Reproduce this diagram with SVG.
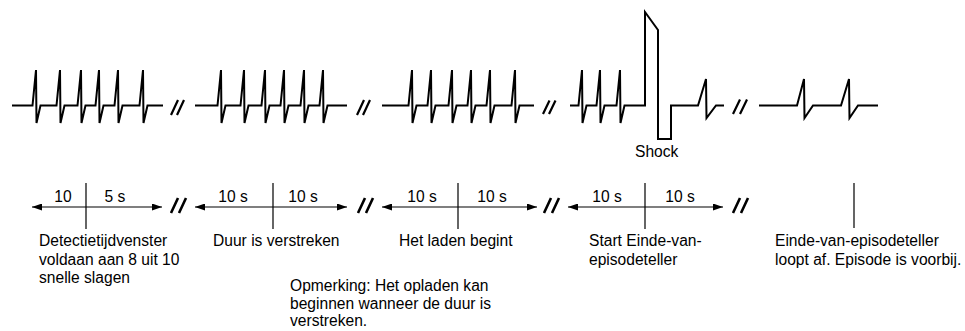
<svg xmlns="http://www.w3.org/2000/svg" width="965" height="331" viewBox="0 0 965 331">
<style>
.ecg{fill:none;stroke:#000;stroke-width:2;stroke-linejoin:miter;stroke-linecap:butt}
.brk{fill:none;stroke:#000;stroke-width:2.2}
.brk2{fill:none;stroke:#000;stroke-width:2.6}
.ax{fill:none;stroke:#000;stroke-width:1.2}
.tk{fill:none;stroke:#000;stroke-width:1.2}
text{font-family:"Liberation Sans",Arial,Helvetica,sans-serif;font-size:15.6px;fill:#000}
.c{text-anchor:middle}
</style>
<defs>
<marker id="ah" viewBox="0 0 10 7" refX="10" refY="3.5" markerUnits="userSpaceOnUse" markerWidth="10" markerHeight="7" orient="auto-start-reverse">
<path d="M0,0 L10,3.5 L0,7 z" fill="#000"/>
</marker>
</defs>
<rect width="965" height="331" fill="#fff"/>
<g id="ecg-strip">
<path class="ecg" d="M12,105.5 L32.5,105.5 L36,70 L36.5,123 L40.5,105.5 L56.5,105.5 L60,70 L60.5,123 L64.5,105.5 L77.5,105.5 L81,70 L81.5,123 L85.5,105.5 L95.5,105.5 L99,70 L99.5,123 L103.5,105.5 L114.5,105.5 L118,70 L118.5,123 L122.5,105.5 L139.5,105.5 L143,70 L143.5,123 L147.5,105.5 L163,105.5"/>
<path class="ecg" d="M195,105.5 L217.5,105.5 L221,70 L221.5,123 L225.5,105.5 L240.5,105.5 L244,70 L244.5,123 L248.5,105.5 L261.5,105.5 L265,70 L265.5,123 L269.5,105.5 L280.5,105.5 L284,70 L284.5,123 L288.5,105.5 L300.5,105.5 L304,70 L304.5,123 L308.5,105.5 L319.5,105.5 L323,70 L323.5,123 L327.5,105.5 L347,105.5"/>
<path class="ecg" d="M382,105.5 L408.5,105.5 L412,70 L412.5,123 L416.5,105.5 L427.5,105.5 L431,70 L431.5,123 L435.5,105.5 L448.5,105.5 L452,70 L452.5,123 L456.5,105.5 L467.5,105.5 L471,70 L471.5,123 L475.5,105.5 L486.5,105.5 L490,70 L490.5,123 L494.5,105.5 L511.5,105.5 L515,70 L515.5,123 L519.5,105.5 L534,105.5"/>
<path class="ecg" d="M570,105.5 L578.5,105.5 L582,70 L582.5,123 L586.5,105.5 L596.5,105.5 L600,70 L600.5,123 L604.5,105.5 L616.5,105.5 L620,70 L620.5,123 L624.5,105.5 L645,105.5 L645,12 L658,30 L658,139 L671,139 L671,105.5 L698,105.5 L706,79 L706.5,118 L716,105.5 L724,105.5"/>
<path class="ecg" d="M759,105.5 L797,105.5 L804,79 L804.5,118 L813,105.5 L841,105.5 L849,79 L849.5,118 L858,105.5 L878,105.5"/>
<path class="brk" d="M171,115 L178,100 M177,115 L184,100 M357,115 L364,100 M363,115 L370,100 M543,114 L549.5,100.5 M549,114 L555.5,100.5 M733,114 L740,99.5 M740,114 L747,99.5"/>
<text id="shock" x="635" y="157">Shock</text>
</g>
<g id="connectors">
<path class="ax" d="M32,207 L162,207" marker-start="url(#ah)" marker-end="url(#ah)"/>
<path class="ax" d="M195,207 L347,207" marker-start="url(#ah)" marker-end="url(#ah)"/>
<path class="ax" d="M382,207 L537,207" marker-start="url(#ah)" marker-end="url(#ah)"/>
<path class="ax" d="M568,207 L723,207" marker-end="url(#ah)" marker-start="url(#ah)"/>
<path class="tk" d="M86,183 L86,229 M273,183 L273,229 M458,183 L458,229 M645,183 L645,229 M854,183 L854,228"/>
<path class="brk2" d="M171,213 L178,198 M179,213 L186,198 M358,213 L365,198 M366,213 L373,198 M544,213 L551,198 M552,213 L559,198 M733,213 L740,198 M741,213 L748,198"/>
</g>
<g id="durations">
<text class="c" x="63" y="202">10</text>
<text class="c" x="115" y="202">5 s</text>
<text class="c" x="233" y="202">10 s</text>
<text class="c" x="303" y="202">10 s</text>
<text class="c" x="422" y="202">10 s</text>
<text class="c" x="492" y="202">10 s</text>
<text class="c" x="607" y="202">10 s</text>
<text class="c" x="680" y="202">10 s</text>
</g>
<g id="label-detectie">
<text x="39" y="246">Detectietijdvenster</text>
<text x="39" y="264.5">voldaan aan 8 uit 10</text>
<text x="39" y="283">snelle slagen</text>
</g>
<g id="label-duur">
<text x="213" y="246">Duur is verstreken</text>
</g>
<g id="label-opmerking">
<text x="290" y="291">Opmerking: Het opladen kan</text>
<text x="290" y="308.5">beginnen wanneer de duur is</text>
<text x="290" y="326">verstreken.</text>
</g>
<g id="label-laden">
<text x="399" y="246">Het laden begint</text>
</g>
<g id="label-start">
<text x="589" y="246">Start Einde-van-</text>
<text x="589" y="264.5">episodeteller</text>
</g>
<g id="label-einde">
<text x="775" y="246">Einde-van-episodeteller</text>
<text x="775" y="264.5">loopt af. Episode is voorbij.</text>
</g>
</svg>
